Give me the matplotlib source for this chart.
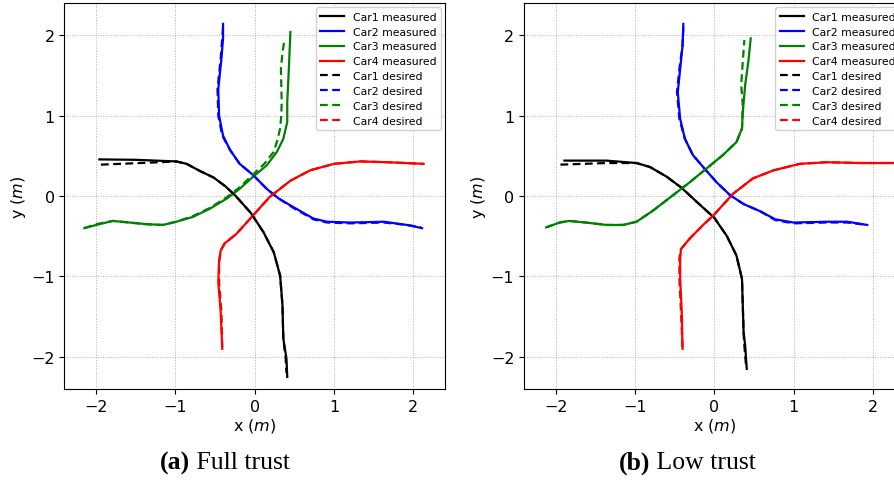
import matplotlib
matplotlib.use("Agg")
import matplotlib.pyplot as plt

# ---------------- data: panel (a) Full trust ----------------
a_car1_meas_x = [-1.96, -1.5, -0.99, -0.86, -0.69, -0.52, -0.37, -0.24, -0.05, 0.11, 0.24, 0.32, 0.35, 0.36, 0.40, 0.41]
a_car1_meas_y = [0.455, 0.45, 0.43, 0.40, 0.31, 0.23, 0.12, 0.0, -0.21, -0.45, -0.70, -0.99, -1.36, -1.77, -2.02, -2.25]
a_car1_des_x = [-1.94, -1.2, -0.99, -0.86, -0.69, -0.52, -0.37, -0.24, -0.05, 0.11, 0.24, 0.32, 0.35, 0.36, 0.39, 0.40]
a_car1_des_y = [0.39, 0.42, 0.43, 0.40, 0.31, 0.23, 0.12, 0.0, -0.21, -0.45, -0.70, -0.99, -1.36, -1.77, -2.02, -2.2]

a_car2_meas_x = [-0.40, -0.40, -0.42, -0.46, -0.45, -0.40, -0.31, -0.19, -0.02, 0.15, 0.30, 0.49, 0.74, 0.91, 1.21, 1.63, 1.92, 2.11]
a_car2_meas_y = [2.14, 1.96, 1.71, 1.33, 1.0, 0.75, 0.57, 0.40, 0.26, 0.09, -0.03, -0.14, -0.28, -0.32, -0.33, -0.32, -0.36, -0.40]
a_car2_des_x = [-0.40, -0.41, -0.43, -0.47, -0.46, -0.41, -0.31, -0.19, -0.02, 0.15, 0.30, 0.49, 0.74, 0.91, 1.21, 1.63, 1.92, 2.10]
a_car2_des_y = [2.10, 1.96, 1.71, 1.33, 1.0, 0.75, 0.57, 0.40, 0.26, 0.09, -0.03, -0.15, -0.29, -0.33, -0.34, -0.33, -0.36, -0.39]

a_car3_meas_x = [-2.15, -2.0, -1.79, -1.58, -1.37, -1.16, -0.99, -0.78, -0.57, -0.35, -0.19, -0.02, 0.15, 0.28, 0.36, 0.41, 0.41, 0.43, 0.45]
a_car3_meas_y = [-0.40, -0.36, -0.31, -0.33, -0.35, -0.36, -0.32, -0.26, -0.16, -0.03, 0.09, 0.24, 0.38, 0.55, 0.71, 0.92, 1.17, 1.58, 2.04]
a_car3_des_x = [-2.15, -2.0, -1.79, -1.58, -1.37, -1.16, -0.99, -0.78, -0.57, -0.36, -0.20, -0.04, 0.12, 0.24, 0.29, 0.32, 0.335, 0.34, 0.33, 0.35, 0.37]
a_car3_des_y = [-0.40, -0.35, -0.31, -0.33, -0.35, -0.36, -0.32, -0.25, -0.15, -0.02, 0.10, 0.25, 0.40, 0.55, 0.71, 0.84, 1.0, 1.17, 1.58, 1.79, 1.91]

a_car4_meas_x = [-0.41, -0.43, -0.46, -0.45, -0.43, -0.38, -0.23, -0.02, 0.19, 0.45, 0.70, 1.0, 1.33, 1.67, 2.13]
a_car4_meas_y = [-1.90, -1.44, -1.07, -0.82, -0.68, -0.59, -0.47, -0.24, -0.01, 0.19, 0.32, 0.40, 0.43, 0.42, 0.40]
a_car4_des_x = [-0.41, -0.42, -0.45, -0.45, -0.43, -0.38, -0.23, -0.02, 0.19, 0.45, 0.70, 1.0, 1.33, 1.67, 2.13]
a_car4_des_y = [-1.88, -1.44, -1.07, -0.82, -0.68, -0.59, -0.47, -0.24, -0.01, 0.19, 0.32, 0.40, 0.43, 0.42, 0.40]

# ---------------- data: panel (b) Low trust ----------------
b_car1_meas_x = [-1.89, -1.36, -0.98, -0.81, -0.60, -0.41, -0.18, 0.0, 0.16, 0.28, 0.35, 0.36, 0.37, 0.39, 0.41]
b_car1_meas_y = [0.44, 0.44, 0.41, 0.36, 0.24, 0.10, -0.11, -0.27, -0.50, -0.74, -1.03, -1.36, -1.69, -1.86, -2.15]
b_car1_des_x = [-1.94, -1.36, -0.98, -0.81, -0.60, -0.41, -0.18, 0.0, 0.16, 0.28, 0.35, 0.36, 0.37, 0.38, 0.40]
b_car1_des_y = [0.39, 0.41, 0.41, 0.36, 0.24, 0.10, -0.11, -0.27, -0.50, -0.74, -1.03, -1.36, -1.69, -1.86, -2.10]

b_car2_meas_x = [-0.39, -0.40, -0.43, -0.46, -0.43, -0.37, -0.27, -0.14, 0.03, 0.20, 0.37, 0.58, 0.77, 1.0, 1.42, 1.68, 1.93]
b_car2_meas_y = [2.14, 1.87, 1.58, 1.29, 0.96, 0.71, 0.51, 0.36, 0.17, 0.01, -0.10, -0.19, -0.29, -0.33, -0.32, -0.32, -0.36]
b_car2_des_x = [-0.39, -0.40, -0.44, -0.47, -0.44, -0.37, -0.27, -0.14, 0.03, 0.20, 0.37, 0.58, 0.77, 1.0, 1.42, 1.68, 1.93]
b_car2_des_y = [2.10, 1.87, 1.58, 1.29, 0.96, 0.71, 0.51, 0.36, 0.17, 0.01, -0.10, -0.19, -0.30, -0.34, -0.33, -0.33, -0.36]

b_car3_meas_x = [-2.12, -1.95, -1.83, -1.62, -1.36, -1.15, -0.98, -0.77, -0.52, -0.31, -0.10, 0.11, 0.28, 0.35, 0.36, 0.39, 0.43, 0.46]
b_car3_meas_y = [-0.39, -0.33, -0.31, -0.33, -0.36, -0.36, -0.32, -0.18, 0.01, 0.17, 0.34, 0.51, 0.67, 0.84, 1.04, 1.38, 1.67, 1.96]
b_car3_des_x = [-2.12, -1.95, -1.83, -1.62, -1.36, -1.15, -0.98, -0.77, -0.52, -0.31, -0.10, 0.11, 0.28, 0.35, 0.36, 0.34, 0.36, 0.38]
b_car3_des_y = [-0.39, -0.33, -0.31, -0.33, -0.36, -0.36, -0.32, -0.18, 0.01, 0.17, 0.34, 0.51, 0.67, 0.84, 1.13, 1.38, 1.67, 1.94]

b_car4_meas_x = [-0.40, -0.41, -0.43, -0.43, -0.42, -0.31, -0.14, -0.01, 0.24, 0.49, 0.75, 1.08, 1.42, 1.84, 2.29, 2.45]
b_car4_meas_y = [-1.90, -1.44, -1.03, -0.78, -0.66, -0.53, -0.36, -0.24, 0.03, 0.22, 0.32, 0.40, 0.42, 0.41, 0.41, 0.41]
b_car4_des_x = [-0.40, -0.42, -0.44, -0.44, -0.42, -0.31, -0.14, -0.01, 0.24, 0.49, 0.75, 1.08, 1.42, 1.84, 2.29, 2.45]
b_car4_des_y = [-1.88, -1.44, -1.03, -0.78, -0.66, -0.53, -0.36, -0.24, 0.03, 0.22, 0.32, 0.40, 0.42, 0.41, 0.41, 0.41]

car_names = ["Car1", "Car2", "Car3", "Car4"]
car_colors = ["black", "blue", "green", "red"]
ticks = [-2, -1, 0, 1, 2]
captions = ["(a)", "(b)"]
caption_texts = [" Full trust", " Low trust"]

panel_a_meas = [(a_car1_meas_x, a_car1_meas_y), (a_car2_meas_x, a_car2_meas_y),
                (a_car3_meas_x, a_car3_meas_y), (a_car4_meas_x, a_car4_meas_y)]
panel_a_des = [(a_car1_des_x, a_car1_des_y), (a_car2_des_x, a_car2_des_y),
               (a_car3_des_x, a_car3_des_y), (a_car4_des_x, a_car4_des_y)]
panel_b_meas = [(b_car1_meas_x, b_car1_meas_y), (b_car2_meas_x, b_car2_meas_y),
                (b_car3_meas_x, b_car3_meas_y), (b_car4_meas_x, b_car4_meas_y)]
panel_b_des = [(b_car1_des_x, b_car1_des_y), (b_car2_des_x, b_car2_des_y),
               (b_car3_des_x, b_car3_des_y), (b_car4_des_x, b_car4_des_y)]

W, H = 895, 481
fig = plt.figure(figsize=(W / 100, H / 100), dpi=100)

ax_w = 380.5 / W
ax_h = 386 / H
ax_b = (H - 390) / H
axes = [fig.add_axes([64.5 / W, ax_b, ax_w, ax_h]),
        fig.add_axes([524 / W, ax_b, ax_w, ax_h])]

panels = [(panel_a_meas, panel_a_des), (panel_b_meas, panel_b_des)]

for ax, (meas, des) in zip(axes, panels):
    for name, col, (x, y) in zip(car_names, car_colors, meas):
        ax.plot(x, y, color=col, lw=1.6, label=f"{name} measured",
                solid_joinstyle="round")
    for name, col, (x, y) in zip(car_names, car_colors, des):
        ax.plot(x, y, color=col, lw=1.6, ls=(0, (3.5, 2)), label=f"{name} desired")
    ax.set_xlim(-2.4, 2.4)
    ax.set_ylim(-2.4, 2.4)
    ax.set_xticks(ticks)
    ax.set_yticks(ticks)
    ax.tick_params(labelsize=11.5, length=3.5)
    ax.grid(True, ls=":", lw=0.7, color="#b0b0b0")
    ax.set_xlabel("x ($m$)", fontsize=11.5, labelpad=2)
    ax.set_ylabel("y ($m$)", fontsize=11.5, labelpad=2)
    ax.legend(loc="upper right", fontsize=7.8, framealpha=0.9,
              handlelength=2.2, borderaxespad=0.4, labelspacing=0.45)

anchors = [190 / W, 650 / W]
for ax_, cap, txt in zip(anchors, captions, caption_texts):
    fig.text(ax_, (H - 463) / H, cap, ha="right", va="center",
             fontsize=18.5, fontfamily="Liberation Serif", fontweight="bold")
    fig.text(ax_, (H - 463) / H, txt, ha="left", va="center",
             fontsize=18.5, fontfamily="Liberation Serif")

fig.savefig("out.png", dpi=100)
